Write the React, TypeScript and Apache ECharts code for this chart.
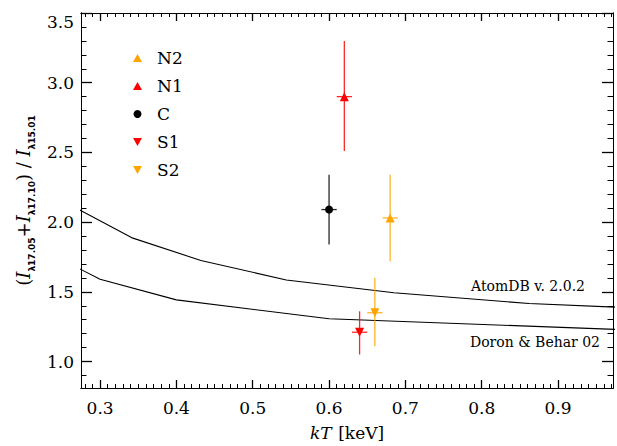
import React, { useEffect, useRef } from 'react';
import * as echarts from 'echarts';

// Measured points
const seriesNames = ['N2', 'N1', 'C', 'S1', 'S2'];
const seriesColors = ['#ffa500', '#ff0000', '#000000', '#ff0000', '#ffa500'];
const kT = [0.68, 0.62, 0.6, 0.64, 0.66];
const kTErr = [0.01, 0.01, 0.01, 0.01, 0.01];
const ratio = [2.03, 2.9, 2.09, 1.21, 1.35];
const ratioLow = [1.72, 2.51, 1.84, 1.05, 1.11];
const ratioHigh = [2.34, 3.3, 2.34, 1.36, 1.6];

// Model curves
const atomdbKT = [0.2725, 0.343, 0.432, 0.544, 0.685, 0.862, 1.085];
const atomdbRatio = [2.09, 1.885, 1.725, 1.585, 1.493, 1.416, 1.365];
const doronKT = [0.25, 0.3, 0.4, 0.6, 1.0];
const doronRatio = [1.73, 1.59, 1.442, 1.307, 1.225];

// Tick labels (major) and minor tick steps
const xTicks = [0.3, 0.4, 0.5, 0.6, 0.7, 0.8, 0.9];
const yTicks = [1.0, 1.5, 2.0, 2.5, 3.0, 3.5];
const xMinorStep = 0.01;
const yMinorStep = 0.1;

const SERIF = '"DejaVu Serif", serif';
const DOWN_TRI = 'path://M0,0 L10,0 L5,9 Z';
const seriesSymbols = ['triangle', 'triangle', 'circle', DOWN_TRI, DOWN_TRI];

function minorValues(min: number, max: number, step: number, majors: number[]): number[] {
  const out: number[] = [];
  const start = Math.ceil(min / step - 1e-9);
  const end = Math.floor(max / step + 1e-9);
  for (let k = start; k <= end; k++) {
    const v = +(k * step).toFixed(4);
    if (!majors.some((m) => Math.abs(m - v) < step / 10)) out.push(v);
  }
  return out;
}

export default function App() {
  const ref = useRef<HTMLDivElement>(null);
  useEffect(() => {
    if (!ref.current) return;
    const chart = echarts.init(ref.current, undefined, { renderer: 'svg' });

    const xMin = 0.275, xMax = 0.972, yMin = 0.81, yMax = 3.5;
    const xMinor = minorValues(xMin, xMax, xMinorStep, xTicks);
    const yMinor = minorValues(yMin, yMax, yMinorStep, yTicks);

    const mkAxis = (pos: string, min: number, max: number, ticks: number[], tickLen: number, tickWidth: number, extra: any = {}) => ({
      type: 'value',
      min,
      max,
      position: pos,
      axisLine: { show: true, onZero: false, lineStyle: { color: '#000', width: 1 } },
      splitLine: { show: false },
      axisTick: { show: true, inside: true, length: tickLen, customValues: ticks, lineStyle: { color: '#000', width: tickWidth } },
      minorTick: { show: false },
      axisLabel: { show: false },
      ...extra,
    });

    const xAxisBottom = mkAxis('bottom', xMin, xMax, xTicks, 8, 1.3, {
      axisLabel: { show: true, customValues: xTicks, margin: 11, fontSize: 17, fontFamily: SERIF, color: '#000', formatter: (v: number) => v.toFixed(1) },
      name: '{i|kT}  {p|[keV]}',
      nameLocation: 'middle',
      nameGap: 36,
      nameTextStyle: {
        rich: {
          i: { fontFamily: SERIF, fontStyle: 'italic', fontSize: 17, color: '#000' },
          p: { fontFamily: SERIF, fontSize: 17, color: '#000' },
        },
      },
    });
    const yAxisLeft = mkAxis('left', yMin, yMax, yTicks, 11, 1.3, {
      axisLabel: { show: true, customValues: yTicks, margin: 7, fontSize: 17, fontFamily: SERIF, color: '#000', formatter: (v: number) => v.toFixed(1), verticalAlignMaxLabel: 'top' },
      name: '{p|(}{i|I}{s|λ17.05}{p|+}{i|I}{s|λ17.10}{p|)}{p| / }{i|I}{s|λ15.01}',
      nameLocation: 'middle',
      nameGap: 44,
      nameRotate: 90,
      nameTextStyle: {
        rich: {
          p: { fontFamily: SERIF, fontSize: 18, lineHeight: 26, color: '#000' },
          i: { fontFamily: SERIF, fontStyle: 'italic', fontSize: 18, lineHeight: 26, color: '#000' },
          s: { fontFamily: '"DejaVu Sans", sans-serif', fontWeight: 'bold', fontSize: 9, lineHeight: 12, verticalAlign: 'bottom', color: '#000' },
        },
      },
    });

    const xAxes = [
      xAxisBottom,
      mkAxis('bottom', xMin, xMax, xMinor, 4, 1),
      mkAxis('top', xMin, xMax, xTicks, 8, 1.3),
      mkAxis('top', xMin, xMax, xMinor, 4, 1),
    ];
    const yAxes = [
      yAxisLeft,
      mkAxis('left', yMin, yMax, yMinor, 5.5, 1),
      mkAxis('right', yMin, yMax, yTicks, 11, 1.3),
      mkAxis('right', yMin, yMax, yMinor, 5.5, 1),
    ];

    const scatterSeries = seriesNames.map((name, i) => ({
      name,
      type: 'scatter',
      xAxisIndex: 0,
      yAxisIndex: 0,
      symbol: seriesSymbols[i],
      symbolSize: seriesSymbols[i] === 'circle' ? 8 : 9,
      itemStyle: { color: seriesColors[i], opacity: 1 },
      data: [[kT[i], ratio[i]]],
      z: 5,
    }));

    const errData = seriesNames.map((_, i) => [kT[i], ratio[i], ratioLow[i], ratioHigh[i], kTErr[i], i]);

    const option: any = {
      animation: false,
      backgroundColor: '#fff',
      grid: { left: 81, right: 4, top: 13, bottom: 58, containLabel: false },
      xAxis: xAxes,
      yAxis: yAxes,
      legend: {
        orient: 'vertical',
        left: 128,
        top: 44,
        itemWidth: 9,
        itemHeight: 8,
        itemGap: 10,
        selectedMode: false,
        textStyle: { fontFamily: SERIF, fontSize: 17, color: '#000', lineHeight: 18, padding: [0, 0, 0, 10] },
        data: seriesNames,
      },
      series: [
        {
          name: 'AtomDB',
          type: 'line',
          xAxisIndex: 0,
          yAxisIndex: 0,
          data: atomdbKT.map((x, i) => [x, atomdbRatio[i]]),
          showSymbol: false,
          symbol: 'none',
          lineStyle: { color: '#000', width: 1.1 },
          clip: true,
          silent: true,
          z: 2,
        },
        {
          name: 'Doron',
          type: 'line',
          xAxisIndex: 0,
          yAxisIndex: 0,
          data: doronKT.map((x, i) => [x, doronRatio[i]]),
          showSymbol: false,
          symbol: 'none',
          lineStyle: { color: '#000', width: 1.1 },
          clip: true,
          silent: true,
          z: 2,
        },
        {
          name: 'errors',
          type: 'custom',
          xAxisIndex: 0,
          yAxisIndex: 0,
          data: errData,
          encode: { x: 0, y: 1 },
          silent: true,
          z: 3,
          renderItem: (params: any, api: any) => {
            const x = api.value(0);
            const y = api.value(1);
            const lo = api.value(2);
            const hi = api.value(3);
            const xe = api.value(4);
            const idx = api.value(5);
            const color = seriesColors[idx];
            const top = api.coord([x, hi]);
            const bot = api.coord([x, lo]);
            const l = api.coord([x - xe, y]);
            const r = api.coord([x + xe, y]);
            const style = { stroke: color, lineWidth: 1.3, opacity: 0.85 };
            return {
              type: 'group',
              children: [
                { type: 'line', shape: { x1: top[0], y1: top[1], x2: bot[0], y2: bot[1] }, style },
                { type: 'line', shape: { x1: l[0], y1: l[1], x2: r[0], y2: r[1] }, style },
              ],
            };
          },
        },
        ...scatterSeries,
      ],
      graphic: [
        {
          type: 'text',
          x: 585,
          y: 286,
          style: {
            text: 'AtomDB v. 2.0.2',
            fill: '#000',
            font: '14px "DejaVu Serif"',
            align: 'right',
            verticalAlign: 'middle',
          },
        },
        {
          type: 'text',
          x: 600,
          y: 342,
          style: {
            text: 'Doron & Behar 02',
            fill: '#000',
            font: '14px "DejaVu Serif"',
            align: 'right',
            verticalAlign: 'middle',
          },
        },
      ],
    };

    chart.setOption(option);
    return () => chart.dispose();
  }, []);

  return <div ref={ref} style={{ width: 617, height: 446, position: 'absolute', left: 0, top: 0 }} />;
}
